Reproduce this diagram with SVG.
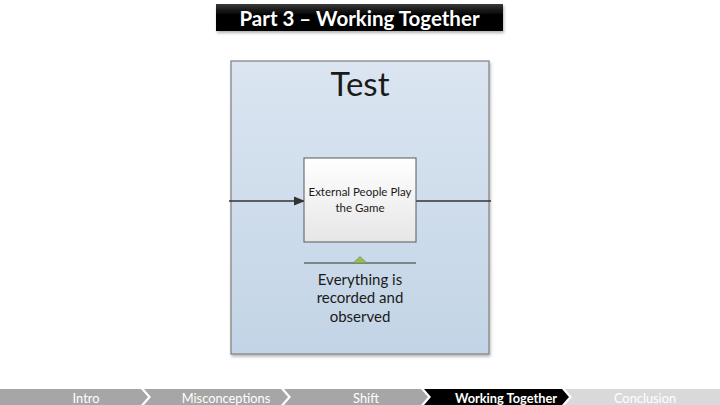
<svg xmlns="http://www.w3.org/2000/svg" width="720" height="405" viewBox="0 0 720 405">
<defs>
<linearGradient id="pool" x1="0" y1="0" x2="0" y2="1">
<stop offset="0" stop-color="#dbe5f1"/>
<stop offset="1" stop-color="#c2d4e6"/>
</linearGradient>
<linearGradient id="task" x1="0" y1="0" x2="0" y2="1">
<stop offset="0" stop-color="#ffffff"/>
<stop offset="1" stop-color="#e6e6e6"/>
</linearGradient>
<linearGradient id="title" x1="0" y1="0" x2="0" y2="1">
<stop offset="0" stop-color="#3a3a3a"/>
<stop offset="0.4" stop-color="#000000"/>
<stop offset="1" stop-color="#000000"/>
</linearGradient>
<marker id="arrow" markerWidth="11" markerHeight="10" refX="10" refY="5" orient="auto" markerUnits="userSpaceOnUse">
<path d="M0,0.5 L11,5 L0,9.5 Z" fill="#333333"/>
</marker>
<filter id="shadow" x="-10%" y="-10%" width="120%" height="130%">
<feDropShadow dx="1" dy="2" stdDeviation="1.5" flood-color="#000" flood-opacity="0.3"/>
</filter>
</defs>
<style>
.nav{font-family:Lato,"Liberation Sans",sans-serif;font-size:12.8px;fill:#ffffff;text-anchor:middle}
.body{font-family:Lato,"Open Sans","Liberation Sans",sans-serif;fill:#1a1a1a;text-anchor:middle}
.seg{fill:#a6a6a6}
</style>
<rect width="720" height="405" fill="#ffffff"/>

<g id="title-bar">
<rect x="216" y="4" width="287" height="27" fill="url(#title)" filter="url(#shadow)"/>
<text x="359.5" y="26" font-family="Lato,'Open Sans','Liberation Sans',sans-serif" font-size="20.5" font-weight="bold" fill="#ffffff" text-anchor="middle">Part 3 – Working Together</text>
</g>

<g id="pool-test">
<rect x="231" y="61" width="258" height="293" fill="url(#pool)" stroke="#7f7f7f" stroke-width="1.2" filter="url(#shadow)"/>
<text x="360" y="96" class="body" font-size="33">Test</text>
</g>

<g id="connectors">
<line x1="229" y1="201" x2="304" y2="201" stroke="#333333" stroke-width="1.3" marker-end="url(#arrow)"/>
<line x1="416" y1="201" x2="491" y2="201" stroke="#333333" stroke-width="1.3"/>
</g>

<g id="task-external">
<rect x="304" y="158" width="112" height="84" fill="url(#task)" stroke="#595959" stroke-width="1"/>
<text x="360" y="196" class="body" font-size="11.5">External People Play</text>
<text x="360" y="212" class="body" font-size="11.5">the Game</text>
</g>

<g id="annotation">
<line x1="304" y1="263" x2="416" y2="263" stroke="#333333" stroke-width="1"/>
<path d="M353,263 L360,256.5 L367,263 Z" fill="#9bbb59" stroke="#6b8a3a" stroke-width="0.6"/>
<text x="360" y="285" class="body" font-size="15">Everything is</text>
<text x="360" y="303" class="body" font-size="15">recorded and</text>
<text x="360" y="322" class="body" font-size="15">observed</text>
</g>

<g id="nav-bar">
<path class="seg" d="M0,389 L141,389 L148,397 L141,405 L0,405 Z"/>
<path class="seg" d="M144,389 L281,389 L288,397 L281,405 L144,405 L151,397 Z"/>
<path class="seg" d="M284,389 L421,389 L428,397 L421,405 L284,405 L291,397 Z"/>
<path d="M424,389 L562,389 L569,397 L562,405 L424,405 L431,397 Z" fill="#000000"/>
<path d="M565,389 L720,389 L720,405 L565,405 L572,397 Z" fill="#d9d9d9"/>
<text x="86" y="403" class="nav">Intro</text>
<text x="226" y="403" class="nav">Misconceptions</text>
<text x="366" y="403" class="nav">Shift</text>
<text x="506" y="403" class="nav" font-weight="bold">Working Together</text>
<text x="645" y="403" class="nav">Conclusion</text>
</g>
</svg>
